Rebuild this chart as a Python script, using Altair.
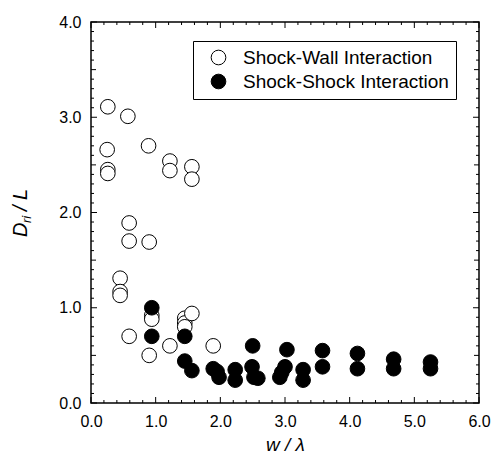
import altair as alt
import pandas as pd

# ---- data ----
wall_x = [0.26, 0.57, 0.25, 0.26, 0.26, 0.89, 1.22, 1.22, 1.56, 1.56,
          0.59, 0.59, 0.90, 0.45, 0.45, 0.45, 0.59, 0.90, 0.94, 0.94,
          1.22, 1.45, 1.45, 1.45, 1.56, 1.89]
wall_y = [3.11, 3.01, 2.66, 2.45, 2.41, 2.70, 2.54, 2.44, 2.48, 2.35,
          1.89, 1.70, 1.69, 1.31, 1.17, 1.13, 0.70, 0.50, 0.92, 0.88,
          0.60, 0.89, 0.84, 0.80, 0.94, 0.60]

shock_x = [0.94, 0.94, 1.45, 1.45, 1.56, 1.89, 1.98, 1.95, 2.23, 2.23,
           2.50, 2.49, 2.58, 2.52, 3.03, 3.00, 2.92, 2.95, 3.28, 3.28,
           3.58, 3.58, 4.12, 4.12, 4.68, 4.68, 5.25, 5.25]
shock_y = [1.00, 0.70, 0.70, 0.44, 0.34, 0.36, 0.27, 0.33, 0.35, 0.24,
           0.60, 0.38, 0.26, 0.27, 0.56, 0.38, 0.27, 0.32, 0.35, 0.24,
           0.55, 0.38, 0.52, 0.36, 0.46, 0.36, 0.43, 0.36]

series_names = ["Shock-Wall Interaction", "Shock-Shock Interaction"]

x_major = [0, 1, 2, 3, 4, 5, 6]
x_minor = [0.2, 0.4, 0.6, 0.8, 1.2, 1.4, 1.6, 1.8, 2.2, 2.4, 2.6, 2.8,
           3.2, 3.4, 3.6, 3.8, 4.2, 4.4, 4.6, 4.8, 5.2, 5.4, 5.6, 5.8]
y_major = [0, 1, 2, 3, 4]
y_mid = [0.5, 1.5, 2.5, 3.5]
y_minor = [0.1, 0.2, 0.3, 0.4, 0.6, 0.7, 0.8, 0.9,
           1.1, 1.2, 1.3, 1.4, 1.6, 1.7, 1.8, 1.9,
           2.1, 2.2, 2.3, 2.4, 2.6, 2.7, 2.8, 2.9,
           3.1, 3.2, 3.3, 3.4, 3.6, 3.7, 3.8, 3.9]

x_title = "w / λ"
y_title_main = "D"
y_title_sub = "ri"
y_title_rest = "/ L"

W, H = 388, 381
FONT = "Liberation Sans"

pts = pd.concat([
    pd.DataFrame({"x": wall_x, "y": wall_y, "s": series_names[0]}),
    pd.DataFrame({"x": shock_x, "y": shock_y, "s": series_names[1]}),
], ignore_index=True)

xs = alt.Scale(domain=[0, 6], nice=False, zero=False)
ys = alt.Scale(domain=[0, 4], nice=False, zero=False)

points = alt.Chart(pts).mark_point(
    filled=True, shape="circle", size=215, stroke="black", strokeWidth=1, opacity=1
).encode(
    x=alt.X("x:Q", scale=xs, axis=alt.Axis(
        values=x_major, format=".1f", ticks=False, domain=False, grid=False,
        labelFlush=False, labelOverlap=False,
        labelFont=FONT, labelFontSize=16, labelColor="black", labelPadding=10,
        title=x_title, titleFont=FONT, titleFontSize=19, titleFontStyle="italic",
        titleFontWeight="normal", titleColor="black", titlePadding=6)),
    y=alt.Y("y:Q", scale=ys, axis=alt.Axis(
        values=y_major, format=".1f", ticks=False, domain=False, grid=False,
        labelFlush=False, labelOverlap=False,
        labelFont=FONT, labelFontSize=16, labelColor="black", labelPadding=10,
        title=None)),
    fill=alt.Fill("s:N", scale=alt.Scale(domain=series_names, range=["white", "black"]),
                  legend=alt.Legend(
                      title=None, orient="none", legendX=102, legendY=19,
                      strokeColor="black", fillColor="white", padding=7,
                      labelFont=FONT, labelFontSize=19, labelColor="black",
                      labelLimit=0,
                      symbolSize=215, symbolStrokeColor="black", symbolStrokeWidth=1,
                      symbolType="circle", rowPadding=4, labelOffset=15,
                      symbolOffset=9, cornerRadius=0)),
)

def vticks(vals, length, side):
    df = pd.DataFrame({"v": vals})
    if side == "bottom":
        enc = dict(x=alt.X("v:Q", scale=xs), y=alt.value(H), y2=alt.value(H - length))
    elif side == "top":
        enc = dict(x=alt.X("v:Q", scale=xs), y=alt.value(0), y2=alt.value(length))
    elif side == "left":
        enc = dict(y=alt.Y("v:Q", scale=ys), x=alt.value(0), x2=alt.value(length))
    else:
        enc = dict(y=alt.Y("v:Q", scale=ys), x=alt.value(W), x2=alt.value(W - length))
    return alt.Chart(df).mark_rule(color="black", strokeWidth=1).encode(**enc)

tick_layers = []
for side in ["bottom", "top"]:
    tick_layers.append(vticks(x_major, 6, side))
    tick_layers.append(vticks(x_minor, 3, side))
for side in ["left", "right"]:
    tick_layers.append(vticks(y_major, 6, side))
    tick_layers.append(vticks(y_mid, 5, side))
    tick_layers.append(vticks(y_minor, 3, side))

# y-axis title with a real subscript, built from text pieces
def title_piece(txt, size, dx, dy):
    return alt.Chart(pd.DataFrame({"t": [txt]})).mark_text(
        angle=270, align="left", baseline="alphabetic", font=FONT,
        fontSize=size, fontStyle="italic", color="black"
    ).encode(text="t:N", x=alt.value(dx), y=alt.value(dy))

y_title_layers = [
    title_piece(y_title_main, 20, -64, 215),
    title_piece(y_title_sub, 13, -60, 201),
    title_piece(y_title_rest, 20, -64, 189),
]

chart = alt.layer(*tick_layers, *y_title_layers, points).properties(
    width=W, height=H, autosize="none",
    padding={"left": 91, "top": 22, "right": 15, "bottom": 63},
    background="white",
).configure_view(stroke="black", strokeWidth=1.5)

chart.save("out.html", embed_options={"renderer": "svg", "actions": False})
